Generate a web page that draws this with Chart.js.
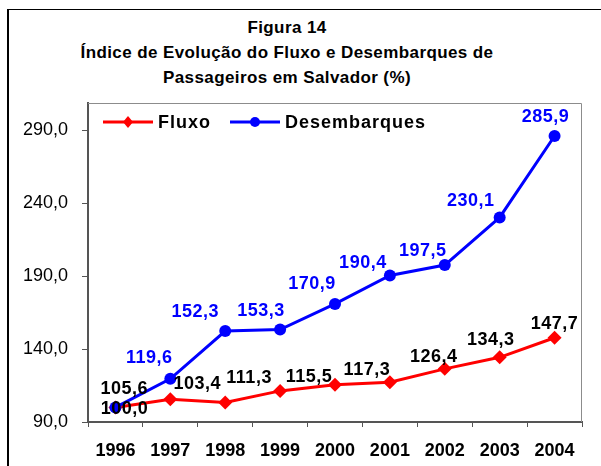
<!DOCTYPE html>
<html>
  <head>
    <title>Figura 14</title>
    <script src="https://cdn.jsdelivr.net/npm/chart.js"></script>
    <style>
      body {
        margin: 0;
        background: #fff;
      }
      .wrap {
        position: relative;
        width: 601px;
        height: 466px;
        overflow: hidden;
      }
      .frame {
        position: absolute;
        left: 7px;
        top: 9px;
        width: 700px;
        height: 600px;
        border-left: 2px solid #000;
        border-top: 1px solid #000;
      }
      .title {
        position: absolute;
        left: 0;
        top: 15px;
        width: 574px;
        text-align: center;
        font-family: "Liberation Sans", Arial, sans-serif;
        font-weight: bold;
        font-size: 17px;
        line-height: 25px;
        letter-spacing: 0.4px;
        color: #000;
      }
      canvas {
        position: absolute;
        left: 0;
        top: 0;
      }
    </style>
  </head>

  <body>
    <div class="wrap">
      <div class="frame"></div>
      <div class="title">
        Figura 14<br />
        Índice de Evolução do Fluxo e Desembarques de<br />
        Passageiros em Salvador (%)
      </div>
      <canvas id="myChart" width="601" height="466"></canvas>
    </div>

    <script>
      const years = ["1996", "1997", "1998", "1999", "2000", "2001", "2002", "2003", "2004"];
      const fluxo = [100.0, 105.6, 103.4, 111.3, 115.5, 117.3, 126.4, 134.3, 147.7];
      const desembarques = [100.0, 119.6, 152.3, 153.3, 170.9, 190.4, 197.5, 230.1, 285.9];
      const yTicks = [90, 140, 190, 240, 290];

      const FONT = "'Liberation Sans', Arial, sans-serif";
      const fmt = (v) => v.toFixed(1).replace(".", ",");

      // label offsets (px) from each point
      const labelOffsets = {
        Fluxo: [[9, 2], [-46, -10], [-28, -18], [-31, -13], [-26, -8], [-23, -12], [-11, -12], [-9, -17], [0, -14]],
        Desembarques: [null, [-21, -21], [-30, -19], [-19, -19], [-23, -20], [-27, -12], [-22, -14], [-29, -16], [-9, -19]],
      };

      const frameAndLabels = {
        id: "frameAndLabels",
        beforeDatasetsDraw(chart) {
          const a = chart.chartArea;
          const ctx = chart.ctx;
          ctx.save();
          ctx.strokeStyle = "#8c8c8c";
          ctx.lineWidth = 1;
          ctx.beginPath();
          ctx.moveTo(a.left, a.top + 0.5);
          ctx.lineTo(a.right - 0.5, a.top + 0.5);
          ctx.lineTo(a.right - 0.5, a.bottom);
          ctx.stroke();
          ctx.restore();
        },
        afterDatasetsDraw(chart) {
          const ctx = chart.ctx;
          ctx.save();
          ctx.font = "bold 18px " + FONT;
          ctx.letterSpacing = "0.5px";
          ctx.textAlign = "center";
          ctx.textBaseline = "middle";
          chart.data.datasets.forEach((ds, i) => {
            const meta = chart.getDatasetMeta(i);
            const offs = labelOffsets[ds.label];
            ctx.fillStyle = ds.label === "Fluxo" ? "#000" : "#0000ff";
            meta.data.forEach((pt, j) => {
              const o = offs[j];
              if (!o) return;
              ctx.fillText(fmt(ds.data[j]), pt.x + o[0], pt.y + o[1]);
            });
          });
          ctx.restore();
        },
        afterDraw(chart) {
          // legend inside the plot, top left
          const a = chart.chartArea;
          const ctx = chart.ctx;
          const y = a.top + 19;
          const items = [
            { text: "Fluxo", color: "#ff0000", x: a.left + 15, shape: "diamond" },
            { text: "Desembarques", color: "#0000ff", x: a.left + 142, shape: "circle" },
          ];
          ctx.save();
          items.forEach((it) => {
            ctx.strokeStyle = it.color;
            ctx.fillStyle = it.color;
            ctx.lineWidth = 3;
            ctx.beginPath();
            ctx.moveTo(it.x, y);
            ctx.lineTo(it.x + 50, y);
            ctx.stroke();
            const cx = it.x + 25;
            ctx.beginPath();
            if (it.shape === "diamond") {
              ctx.moveTo(cx, y - 6);
              ctx.lineTo(cx + 5, y);
              ctx.lineTo(cx, y + 6);
              ctx.lineTo(cx - 5, y);
              ctx.closePath();
            } else {
              ctx.arc(cx, y, 5, 0, Math.PI * 2);
            }
            ctx.fill();
            ctx.fillStyle = "#000";
            ctx.font = "bold 18px " + FONT;
            ctx.letterSpacing = "1px";
            ctx.textAlign = "left";
            ctx.textBaseline = "middle";
            ctx.fillText(it.text, it.x + 55, y + 1);
          });
          ctx.restore();
        },
      };

      const data = {
        labels: years,
        datasets: [
          {
            label: "Fluxo",
            data: fluxo,
            borderColor: "#ff0000",
            backgroundColor: "#ff0000",
            borderWidth: 3,
            pointStyle: "rectRot",
            pointRadius: 7,
            pointBorderWidth: 0,
            order: 2,
          },
          {
            label: "Desembarques",
            data: desembarques,
            borderColor: "#0000ff",
            backgroundColor: "#0000ff",
            borderWidth: 3,
            pointStyle: "circle",
            pointRadius: 6,
            pointBorderWidth: 0,
            order: 1,
          },
        ],
      };

      const config = {
        type: "line",
        data: data,
        plugins: [frameAndLabels],
        options: {
          responsive: false,
          animation: false,
          layout: { padding: { left: 0, right: 19, top: 103, bottom: 0 } },
          plugins: {
            legend: { display: false },
            title: { display: false },
            tooltip: { enabled: false },
          },
          scales: {
            x: {
              offset: true,
              afterFit: (s) => (s.height = 44),
              grid: { offset: true, drawOnChartArea: false, tickLength: 5, color: "#555", lineWidth: 1 },
              border: { color: "#555", width: 2 },
              ticks: { color: "#000", padding: 13, font: { family: FONT, size: 18, weight: "bold" } },
            },
            y: {
              min: 90,
              max: 308.5,
              afterFit: (s) => (s.width = 88),
              afterBuildTicks: (s) => (s.ticks = yTicks.map((v) => ({ value: v }))),
              grid: { drawOnChartArea: false, tickLength: 6, color: "#555" },
              border: { color: "#555", width: 2 },
              ticks: {
                color: "#000",
                padding: 14,
                font: { family: FONT, size: 18 },
                callback: (v) => fmt(v),
              },
            },
          },
        },
      };

      Chart.defaults.font.family = FONT;
      const myChart = new Chart(document.getElementById("myChart"), config);
    </script>
  </body>
</html>
